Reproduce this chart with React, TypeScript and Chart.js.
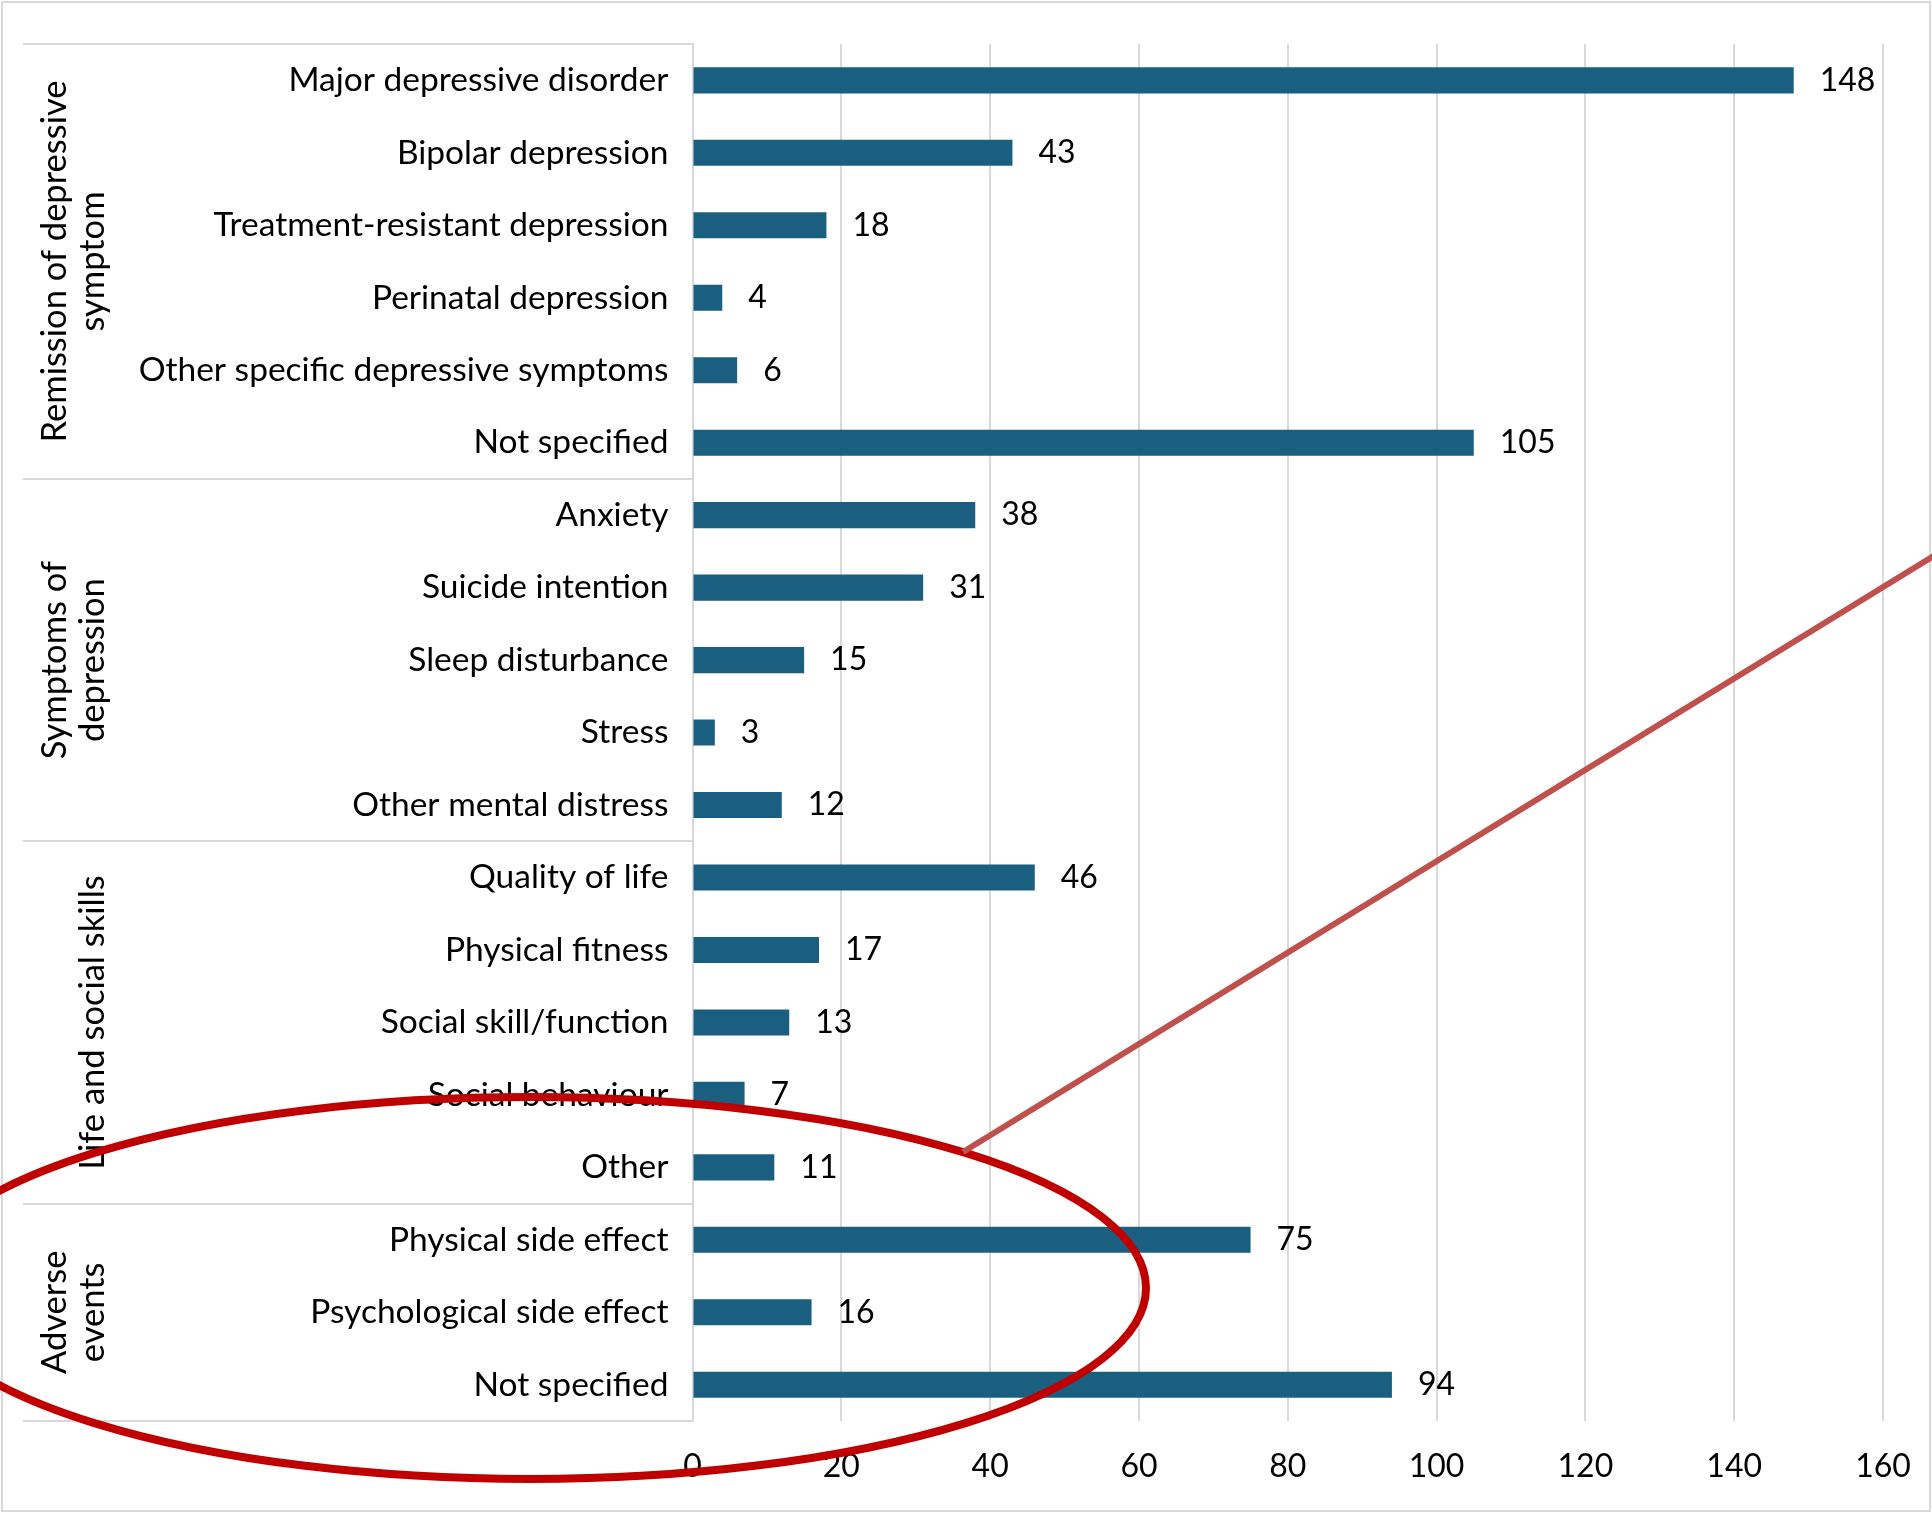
import React, { useEffect, useRef } from "react";
import { Chart, registerables } from "chart.js";

Chart.register(...registerables);

// ---- data ----
const categories = [
  "Major depressive disorder",
  "Bipolar depression",
  "Treatment-resistant depression",
  "Perinatal depression",
  "Other specific depressive symptoms",
  "Not specified",
  "Anxiety",
  "Suicide intention",
  "Sleep disturbance",
  "Stress",
  "Other mental distress",
  "Quality of life",
  "Physical fitness",
  "Social skill/function",
  "Social behaviour",
  "Other",
  "Physical side effect",
  "Psychological side effect",
  "Not specified",
];
const counts = [148, 43, 18, 4, 6, 105, 38, 31, 15, 3, 12, 46, 17, 13, 7, 11, 75, 16, 94];

const groupNames = [
  ["Remission of depressive", "symptom"],
  ["Symptoms of", "depression"],
  ["", "Life and social skills"],
  ["Adverse", "events"],
];
const groupSizes = [6, 5, 5, 3];

const xMin = 0;
const xMax = 160;
const xStep = 20;

// ---- styles ----
const FONT = "Lato, 'Open Sans', sans-serif";
const FONT_SIZE = 32;
const CAT_FONT_SIZE = 33.5;
const GROUP_FONT_SIZE = 34.5;
const BAR_COLOR = "#1a5f80";
const GRID_COLOR = "#d9d9d9";
const TEXT_COLOR = "#000000";
const GROUP_LINE_X = [55, 93];
const GROUP_LEFT_X = 23;

const groupPlugin = {
  id: "groupPlugin",
  afterDraw(chart: any) {
    const ctx = chart.ctx as CanvasRenderingContext2D;
    const yScale = chart.scales.y;
    const left = chart.chartArea.left;
    ctx.save();
    // separators
    ctx.strokeStyle = GRID_COLOR;
    ctx.lineWidth = 2;
    const bounds = [0];
    let acc = 0;
    groupSizes.forEach((s) => {
      acc += s;
      bounds.push(acc);
    });
    bounds.forEach((b) => {
      const py = Math.round(yScale.getPixelForValue(b - 0.5));
      ctx.beginPath();
      ctx.moveTo(GROUP_LEFT_X, py);
      ctx.lineTo(left, py);
      ctx.stroke();
    });
    // group labels
    ctx.fillStyle = TEXT_COLOR;
    ctx.font = `${GROUP_FONT_SIZE}px ${FONT}`;
    ctx.textAlign = "center";
    ctx.textBaseline = "middle";
    for (let g = 0; g < groupNames.length; g++) {
      const y0 = yScale.getPixelForValue(bounds[g] - 0.5);
      const y1 = yScale.getPixelForValue(bounds[g + 1] - 0.5);
      const cy = (y0 + y1) / 2;
      groupNames[g].forEach((line, i) => {
        if (!line) return;
        ctx.save();
        ctx.translate(GROUP_LINE_X[i], cy);
        ctx.rotate(-Math.PI / 2);
        ctx.fillText(line, 0, 0);
        ctx.restore();
      });
    }
    // outer frame
    ctx.strokeStyle = GRID_COLOR;
    ctx.lineWidth = 2;
    ctx.strokeRect(2, 2, chart.width - 4, chart.height - 4);
    ctx.restore();
  },
};

const valueLabelPlugin = {
  id: "valueLabelPlugin",
  afterDatasetsDraw(chart: any) {
    const ctx = chart.ctx as CanvasRenderingContext2D;
    const meta = chart.getDatasetMeta(0);
    ctx.save();
    ctx.fillStyle = TEXT_COLOR;
    ctx.font = `${FONT_SIZE}px ${FONT}`;
    ctx.textAlign = "left";
    ctx.textBaseline = "middle";
    meta.data.forEach((bar: any, i: number) => {
      ctx.fillText(String(counts[i]), bar.x + 26, bar.y);
    });
    ctx.restore();
  },
};

// hand-drawn annotation overlay (ellipse + pointer line)
const ANNOT_ELLIPSE = { cx: 530, cy: 1288, rx: 616, ry: 191, width: 8, color: "#c00000" };
const ANNOT_LINE = { x1: 963, y1: 1152, x2: 1945, y2: 549, width: 6, color: "#c0504d" };

const annotationPlugin = {
  id: "annotationPlugin",
  afterDraw(chart: any) {
    const ctx = chart.ctx as CanvasRenderingContext2D;
    ctx.save();
    ctx.strokeStyle = ANNOT_ELLIPSE.color;
    ctx.lineWidth = ANNOT_ELLIPSE.width;
    ctx.beginPath();
    ctx.ellipse(ANNOT_ELLIPSE.cx, ANNOT_ELLIPSE.cy, ANNOT_ELLIPSE.rx, ANNOT_ELLIPSE.ry, 0, 0, Math.PI * 2);
    ctx.stroke();
    ctx.strokeStyle = ANNOT_LINE.color;
    ctx.lineWidth = ANNOT_LINE.width;
    ctx.lineCap = "butt";
    ctx.beginPath();
    ctx.moveTo(ANNOT_LINE.x1, ANNOT_LINE.y1);
    ctx.lineTo(ANNOT_LINE.x2, ANNOT_LINE.y2);
    ctx.stroke();
    ctx.restore();
  },
};

export default function App() {
  const canvasRef = useRef<HTMLCanvasElement | null>(null);

  useEffect(() => {
    document.body.style.margin = "0";
    document.body.style.overflow = "hidden";
    const canvas = canvasRef.current;
    if (!canvas) return;
    const chart = new Chart(canvas, {
      type: "bar",
      data: {
        labels: categories,
        datasets: [
          {
            data: counts,
            backgroundColor: BAR_COLOR,
            borderWidth: 0,
            barPercentage: 0.36,
            categoryPercentage: 1,
          },
        ],
      },
      options: {
        indexAxis: "y",
        responsive: false,
        animation: false,
        devicePixelRatio: 1,
        layout: { padding: { top: 43, right: 49, bottom: 0, left: 0 } },
        plugins: {
          legend: { display: false },
          tooltip: { enabled: false },
        },
        scales: {
          x: {
            min: xMin,
            max: xMax,
            ticks: {
              stepSize: xStep,
              color: TEXT_COLOR,
              font: { family: FONT, size: FONT_SIZE },
              padding: 26,
              maxRotation: 0,
            },
            grid: { color: GRID_COLOR, lineWidth: 2, drawTicks: false },
            border: { display: false },
            afterFit(scale: any) {
              scale.height = 92;
              scale.paddingRight = 0;
              scale.paddingLeft = 0;
            },
          },
          y: {
            ticks: {
              color: TEXT_COLOR,
              font: { family: FONT, size: CAT_FONT_SIZE },
              padding: 24,
              autoSkip: false,
            },
            grid: { display: true, drawOnChartArea: false, drawTicks: false, color: "transparent" },
            border: { display: true, color: GRID_COLOR, width: 2 },
            afterFit(scale: any) {
              scale.width = 692.5;
            },
          },
        },
      },
      plugins: [valueLabelPlugin, groupPlugin, annotationPlugin],
    } as any);
    return () => chart.destroy();
  }, []);

  return (
    <div style={{ width: 1932, height: 1513, background: "#ffffff" }}>
      <canvas ref={canvasRef} width={1932} height={1513} style={{ display: "block" }} />
    </div>
  );
}
